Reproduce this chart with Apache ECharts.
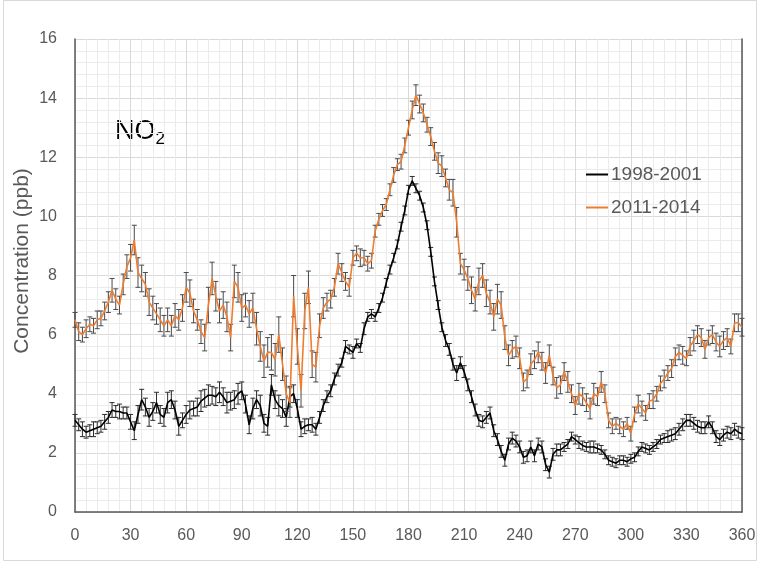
<!DOCTYPE html>
<html>
<head>
<meta charset="utf-8">
<script src="https://cdn.jsdelivr.net/npm/echarts@6/dist/echarts.min.js"></script>
<style>
  html, body { margin: 0; padding: 0; background: #ffffff; }
  #chart { width: 759px; height: 563px; }
</style>
</head>
<body>
<div id="chart"></div>
<script>
// Wind direction (degrees) at which each mean is taken
const angles = [
  0, 2, 4, 6, 8, 10, 12, 14, 16, 18,
  20, 22, 24, 26, 28, 30, 32, 34, 36, 38,
  40, 42, 44, 46, 48, 50, 52, 54, 56, 58,
  60, 62, 64, 66, 68, 70, 72, 74, 76, 78,
  80, 82, 84, 86, 88, 90, 92, 94, 96, 98,
  100, 102, 104, 106, 108, 110, 112, 114, 116, 118,
  120, 122, 124, 126, 128, 130, 132, 134, 136, 138,
  140, 142, 144, 146, 148, 150, 152, 154, 156, 158,
  160, 162, 164, 166, 168, 170, 172, 174, 176, 178,
  180, 182, 184, 186, 188, 190, 192, 194, 196, 198,
  200, 202, 204, 206, 208, 210, 212, 214, 216, 218,
  220, 222, 224, 226, 228, 230, 232, 234, 236, 238,
  240, 242, 244, 246, 248, 250, 252, 254, 256, 258,
  260, 262, 264, 266, 268, 270, 272, 274, 276, 278,
  280, 282, 284, 286, 288, 290, 292, 294, 296, 298,
  300, 302, 304, 306, 308, 310, 312, 314, 316, 318,
  320, 322, 324, 326, 328, 330, 332, 334, 336, 338,
  340, 342, 344, 346, 348, 350, 352, 354, 356, 358,
  360
];

// Mean NO2 (ppb), 1998-2001
const no2Early = [
  3.1, 2.95, 2.8, 2.7, 2.75, 2.8, 2.85, 2.9, 3.05, 3.2,
  3.45, 3.4, 3.4, 3.35, 3.35, 3.05, 2.75, 3.3, 3.8, 3.55,
  3.2, 3.4, 3.7, 3.3, 3.2, 3.7, 3.8, 3.45, 2.9, 3.1,
  3.3, 3.45, 3.5, 3.55, 3.75, 3.85, 3.95, 3.95, 3.9, 4.05,
  3.9, 3.7, 3.75, 3.8, 4.0, 4.1, 3.65, 2.95, 3.5, 3.8,
  3.6, 3.0, 2.9, 4.3, 3.8, 3.6, 3.5, 3.2, 3.9, 4.0,
  3.5, 2.8, 2.9, 2.95, 2.95, 2.8, 3.2, 3.6, 3.9, 4.1,
  4.5, 4.8, 5.05, 5.6, 5.5, 5.4, 5.7, 5.55, 6.2, 6.6,
  6.7, 6.6, 6.9, 7.25, 7.75, 8.2, 8.6, 9.05, 9.65, 10.2,
  10.9, 11.2, 10.95, 10.7, 10.3, 9.7, 8.8, 7.8, 7.0, 6.25,
  5.8, 5.5, 5.0, 4.7, 5.05, 4.75, 4.3, 3.9, 3.45, 3.1,
  3.05, 3.2, 3.35, 2.75, 2.45, 2.05, 1.75, 2.3, 2.5, 2.4,
  2.2, 1.85, 1.9, 2.2, 1.9, 2.3, 2.2, 1.6, 1.35, 1.95,
  2.1, 2.1, 2.2, 2.3, 2.55, 2.45, 2.35, 2.25, 2.2, 2.2,
  2.2, 2.15, 2.1, 1.95, 1.75, 1.7, 1.65, 1.75, 1.75, 1.7,
  1.8, 1.85, 2.05, 2.2, 2.15, 2.1, 2.2, 2.3, 2.45, 2.5,
  2.55, 2.6, 2.65, 2.8, 2.95, 3.1, 3.1, 3.0, 2.9, 2.85,
  2.85, 3.05, 2.85, 2.55, 2.45, 2.6, 2.7, 2.65, 2.8, 2.7,
  2.65
];

// Mean NO2 (ppb), 2011-2014
const no2Late = [
  6.5, 6.1, 6.0, 6.2, 6.35, 6.3, 6.5, 6.55, 6.8, 7.1,
  7.5, 7.2, 7.0, 7.7, 8.3, 8.6, 9.2, 8.1, 7.9, 7.7,
  7.1, 6.9, 6.7, 6.5, 6.3, 6.5, 6.3, 6.65, 6.5, 6.9,
  7.6, 7.4, 6.8, 6.5, 6.1, 5.9, 7.0, 7.9, 7.3, 6.8,
  7.0, 6.6, 5.9, 7.8, 7.6, 6.9, 7.0, 6.7, 6.9, 6.2,
  5.6, 5.1, 5.4, 5.4, 5.15, 6.0, 5.0, 4.0, 3.7, 7.3,
  5.6, 4.1, 6.8, 7.6, 5.0, 4.9, 6.3, 6.9, 7.1, 7.2,
  7.6, 8.4, 8.1, 7.8, 7.6, 8.6, 8.75, 8.6, 8.6, 8.4,
  8.5, 9.5, 9.9, 10.2, 10.4, 10.9, 11.4, 11.75, 11.85, 12.4,
  13.0, 13.6, 14.1, 13.8, 13.5, 13.1, 12.7, 12.2, 11.8, 11.7,
  11.3, 10.9, 10.8, 9.8, 8.4, 8.2, 7.9, 7.5, 7.2, 7.8,
  8.0, 7.4, 7.1, 6.6, 7.2, 7.0, 5.9, 5.3, 5.5, 5.6,
  5.2, 4.4, 4.5, 5.0, 5.15, 5.4, 5.1, 4.7, 5.3, 4.6,
  4.2, 4.3, 4.75, 4.4, 4.0, 3.6, 4.0, 3.9, 3.7, 3.5,
  4.0, 3.9, 4.4, 4.0, 3.1, 2.9, 3.0, 2.9, 2.8, 3.0,
  2.65, 3.3, 3.65, 3.5, 3.35, 3.75, 3.8, 4.0, 4.35, 4.5,
  4.7, 4.85, 5.25, 5.4, 5.3, 5.2, 5.6, 5.8, 6.0, 5.9,
  5.5, 5.9, 6.0, 5.75, 5.6, 5.8, 5.9, 5.6, 6.4, 6.4,
  6.25
];

// Error bar half-widths (ppb), 1998-2001
const errEarly = [
  0.2, 0.2, 0.25, 0.2, 0.2, 0.25, 0.2, 0.2, 0.25, 0.2,
  0.25, 0.2, 0.25, 0.2, 0.2, 0.25, 0.3, 0.3, 0.35, 0.3,
  0.3, 0.3, 0.35, 0.3, 0.3, 0.35, 0.3, 0.3, 0.3, 0.25,
  0.3, 0.3, 0.25, 0.3, 0.35, 0.3, 0.35, 0.3, 0.3, 0.35,
  0.3, 0.35, 0.3, 0.3, 0.35, 0.3, 0.3, 0.3, 0.35, 0.3,
  0.35, 0.3, 0.3, 0.35, 0.3, 0.35, 0.3, 0.3, 0.35, 0.3,
  0.3, 0.25, 0.25, 0.2, 0.25, 0.2, 0.2, 0.2, 0.2, 0.2,
  0.2, 0.2, 0.15, 0.2, 0.15, 0.2, 0.15, 0.15, 0.2, 0.15,
  0.15, 0.15, 0.15, 0.15, 0.15, 0.15, 0.15, 0.15, 0.15, 0.15,
  0.15, 0.15, 0.15, 0.15, 0.15, 0.15, 0.15, 0.15, 0.15, 0.15,
  0.2, 0.2, 0.2, 0.25, 0.2, 0.2, 0.2, 0.2, 0.2, 0.2,
  0.2, 0.2, 0.2, 0.2, 0.2, 0.2, 0.2, 0.2, 0.2, 0.2,
  0.2, 0.2, 0.2, 0.2, 0.2, 0.2, 0.2, 0.2, 0.2, 0.2,
  0.2, 0.2, 0.15, 0.15, 0.15, 0.15, 0.2, 0.15, 0.15, 0.2,
  0.2, 0.15, 0.15, 0.15, 0.15, 0.15, 0.15, 0.15, 0.15, 0.15,
  0.15, 0.15, 0.15, 0.15, 0.15, 0.15, 0.15, 0.15, 0.15, 0.15,
  0.2, 0.2, 0.2, 0.2, 0.2, 0.2, 0.2, 0.2, 0.2, 0.2,
  0.2, 0.2, 0.2, 0.2, 0.2, 0.2, 0.2, 0.2, 0.2, 0.2,
  0.2
];

// Error bar half-widths (ppb), 2011-2014
const errLate = [
  0.25, 0.3, 0.25, 0.3, 0.25, 0.25, 0.3, 0.25, 0.3, 0.35,
  0.4, 0.35, 0.3, 0.35, 0.4, 0.45, 0.5, 0.5, 0.45, 0.4,
  0.45, 0.4, 0.35, 0.4, 0.35, 0.4, 0.35, 0.4, 0.35, 0.45,
  0.5, 0.45, 0.4, 0.35, 0.4, 0.45, 0.6, 0.55, 0.5, 0.4,
  0.45, 0.5, 0.45, 0.55, 0.5, 0.45, 0.4, 0.45, 0.5, 0.55,
  0.5, 0.55, 0.5, 0.6, 0.55, 0.6, 0.55, 0.6, 0.5, 0.7,
  0.6, 0.55, 0.6, 0.55, 0.45, 0.5, 0.4, 0.35, 0.3, 0.3,
  0.3, 0.35, 0.3, 0.3, 0.3, 0.25, 0.25, 0.3, 0.25, 0.25,
  0.25, 0.2, 0.2, 0.2, 0.2, 0.2, 0.25, 0.2, 0.25, 0.25,
  0.25, 0.3, 0.35, 0.3, 0.3, 0.25, 0.3, 0.3, 0.35, 0.35,
  0.3, 0.35, 0.45, 0.5, 0.35, 0.35, 0.4, 0.45, 0.4, 0.45,
  0.4, 0.45, 0.4, 0.45, 0.5, 0.45, 0.4, 0.35, 0.3, 0.35,
  0.35, 0.3, 0.3, 0.35, 0.3, 0.35, 0.3, 0.35, 0.35, 0.3,
  0.35, 0.3, 0.3, 0.35, 0.3, 0.3, 0.35, 0.3, 0.3, 0.35,
  0.35, 0.3, 0.35, 0.3, 0.25, 0.25, 0.2, 0.25, 0.25, 0.2,
  0.25, 0.25, 0.3, 0.25, 0.25, 0.25, 0.3, 0.25, 0.25, 0.3,
  0.25, 0.3, 0.3, 0.25, 0.3, 0.25, 0.3, 0.35, 0.3, 0.3,
  0.3, 0.25, 0.3, 0.3, 0.35, 0.3, 0.3, 0.25, 0.3, 0.3,
  0.3
];

const seriesNames = ['1998-2001', '2011-2014'];
const xTicks = [0, 30, 60, 90, 120, 150, 180, 210, 240, 270, 300, 330, 360];
const yTicks = [0, 2, 4, 6, 8, 10, 12, 14, 16];
const yTitle = 'Concentration (ppb)';

const FONT = 'Liberation Sans, Arial, sans-serif';
const LABEL_COLOR = '#595959';

function pairs(vals) {
  return angles.map((a, i) => [a, vals[i]]);
}
function bars(vals, errs) {
  return angles.map((a, i) => [a, vals[i] - errs[i], vals[i] + errs[i]]);
}

// Vertical error bar with short caps
function errorBarRenderer(color) {
  return function (params, api) {
    const x = api.value(0);
    const lo = api.coord([x, api.value(1)]);
    const hi = api.coord([x, api.value(2)]);
    const cap = 2.5;
    const style = { stroke: color, lineWidth: 1, fill: null };
    return {
      type: 'group',
      children: [
        { type: 'line', shape: { x1: lo[0], y1: lo[1], x2: hi[0], y2: hi[1] }, style: style },
        { type: 'line', shape: { x1: hi[0] - cap, y1: hi[1], x2: hi[0] + cap, y2: hi[1] }, style: style },
        { type: 'line', shape: { x1: lo[0] - cap, y1: lo[1], x2: lo[0] + cap, y2: lo[1] }, style: style }
      ]
    };
  };
}

const chart = echarts.init(document.getElementById('chart'), null, { renderer: 'canvas' });

chart.setOption({
  animation: false,
  backgroundColor: '#ffffff',
  grid: { left: 75, right: 17, top: 39, bottom: 51, containLabel: false },
  legend: {
    orient: 'vertical',
    left: 581,
    top: 160,
    itemGap: 14,
    icon: 'rect',
    itemWidth: 22,
    itemHeight: 2,
    data: seriesNames,
    textStyle: { fontFamily: FONT, fontSize: 19, color: LABEL_COLOR, padding: [0, 0, 0, -2] }
  },
  xAxis: {
    type: 'value',
    min: xTicks[0],
    max: xTicks[xTicks.length - 1],
    interval: 30,
    axisLine: { show: true, lineStyle: { color: '#595959', width: 1.5 } },
    axisTick: { show: false },
    axisLabel: { fontFamily: FONT, fontSize: 16, color: LABEL_COLOR, margin: 16 },
    splitLine: { show: true, lineStyle: { color: '#d9d9d9', width: 1 } },
    minorTick: { show: false, splitNumber: 5 },
    minorSplitLine: { show: true, lineStyle: { color: '#ebebeb', width: 1 } }
  },
  yAxis: [
    {
      type: 'value',
      min: yTicks[0],
      max: yTicks[yTicks.length - 1],
      interval: 2,
      axisLine: { show: true, lineStyle: { color: '#595959', width: 1.5 } },
      axisTick: { show: false },
      axisLabel: { fontFamily: FONT, fontSize: 16, color: LABEL_COLOR, margin: 18 },
      splitLine: { show: true, lineStyle: { color: '#d9d9d9', width: 1 } },
      minorTick: { show: false, splitNumber: 5 },
      minorSplitLine: { show: true, lineStyle: { color: '#ebebeb', width: 1 } }
    },
    {
      type: 'value',
      position: 'right',
      min: yTicks[0],
      max: yTicks[yTicks.length - 1],
      interval: 2,
      axisLine: { show: true, lineStyle: { color: '#595959', width: 1.5 } },
      axisTick: { show: false },
      axisLabel: { show: false },
      splitLine: { show: false }
    }
  ],
  graphic: [
    {
      type: 'rect',
      silent: true,
      shape: { x: 3.5, y: 0.5, width: 753, height: 560 },
      style: { fill: null, stroke: '#d9d9d9', lineWidth: 1 }
    },
    {
      // rotated axis title
      type: 'text',
      silent: true,
      x: 22,
      y: 261,
      rotation: Math.PI / 2,
      style: {
        text: yTitle,
        fontFamily: FONT,
        fontSize: 21,
        fill: LABEL_COLOR,
        align: 'center',
        verticalAlign: 'middle'
      }
    },
    {
      type: 'text',
      left: 115,
      top: 118,
      style: {
        text: '{a|NO}{b|2}',
        rich: {
          a: { fontFamily: FONT, fontSize: 27, fill: '#000000', color: '#000000' },
          b: { fontFamily: FONT, fontSize: 17, fill: '#000000', color: '#000000', padding: [16, 0, 0, 0] }
        }
      }
    }
  ],
  series: [
    {
      name: seriesNames[0] + ' error',
      type: 'custom',
      renderItem: errorBarRenderer('#2b2b2b'),
      data: bars(no2Early, errEarly),
      encode: { x: 0, y: [1, 2] },
      z: 2,
      silent: true
    },
    {
      name: seriesNames[0],
      type: 'line',
      data: pairs(no2Early),
      showSymbol: false,
      symbol: 'none',
      color: '#000000',
      lineStyle: { color: '#000000', width: 1.6 },
      z: 3
    },
    {
      name: seriesNames[1] + ' error',
      type: 'custom',
      renderItem: errorBarRenderer('#4a4a4a'),
      data: bars(no2Late, errLate),
      encode: { x: 0, y: [1, 2] },
      z: 4,
      silent: true
    },
    {
      name: seriesNames[1],
      type: 'line',
      data: pairs(no2Late),
      showSymbol: false,
      symbol: 'none',
      color: '#ED7D31',
      lineStyle: { color: '#ED7D31', width: 1.6 },
      z: 5
    }
  ]
});
</script>
</body>
</html>
